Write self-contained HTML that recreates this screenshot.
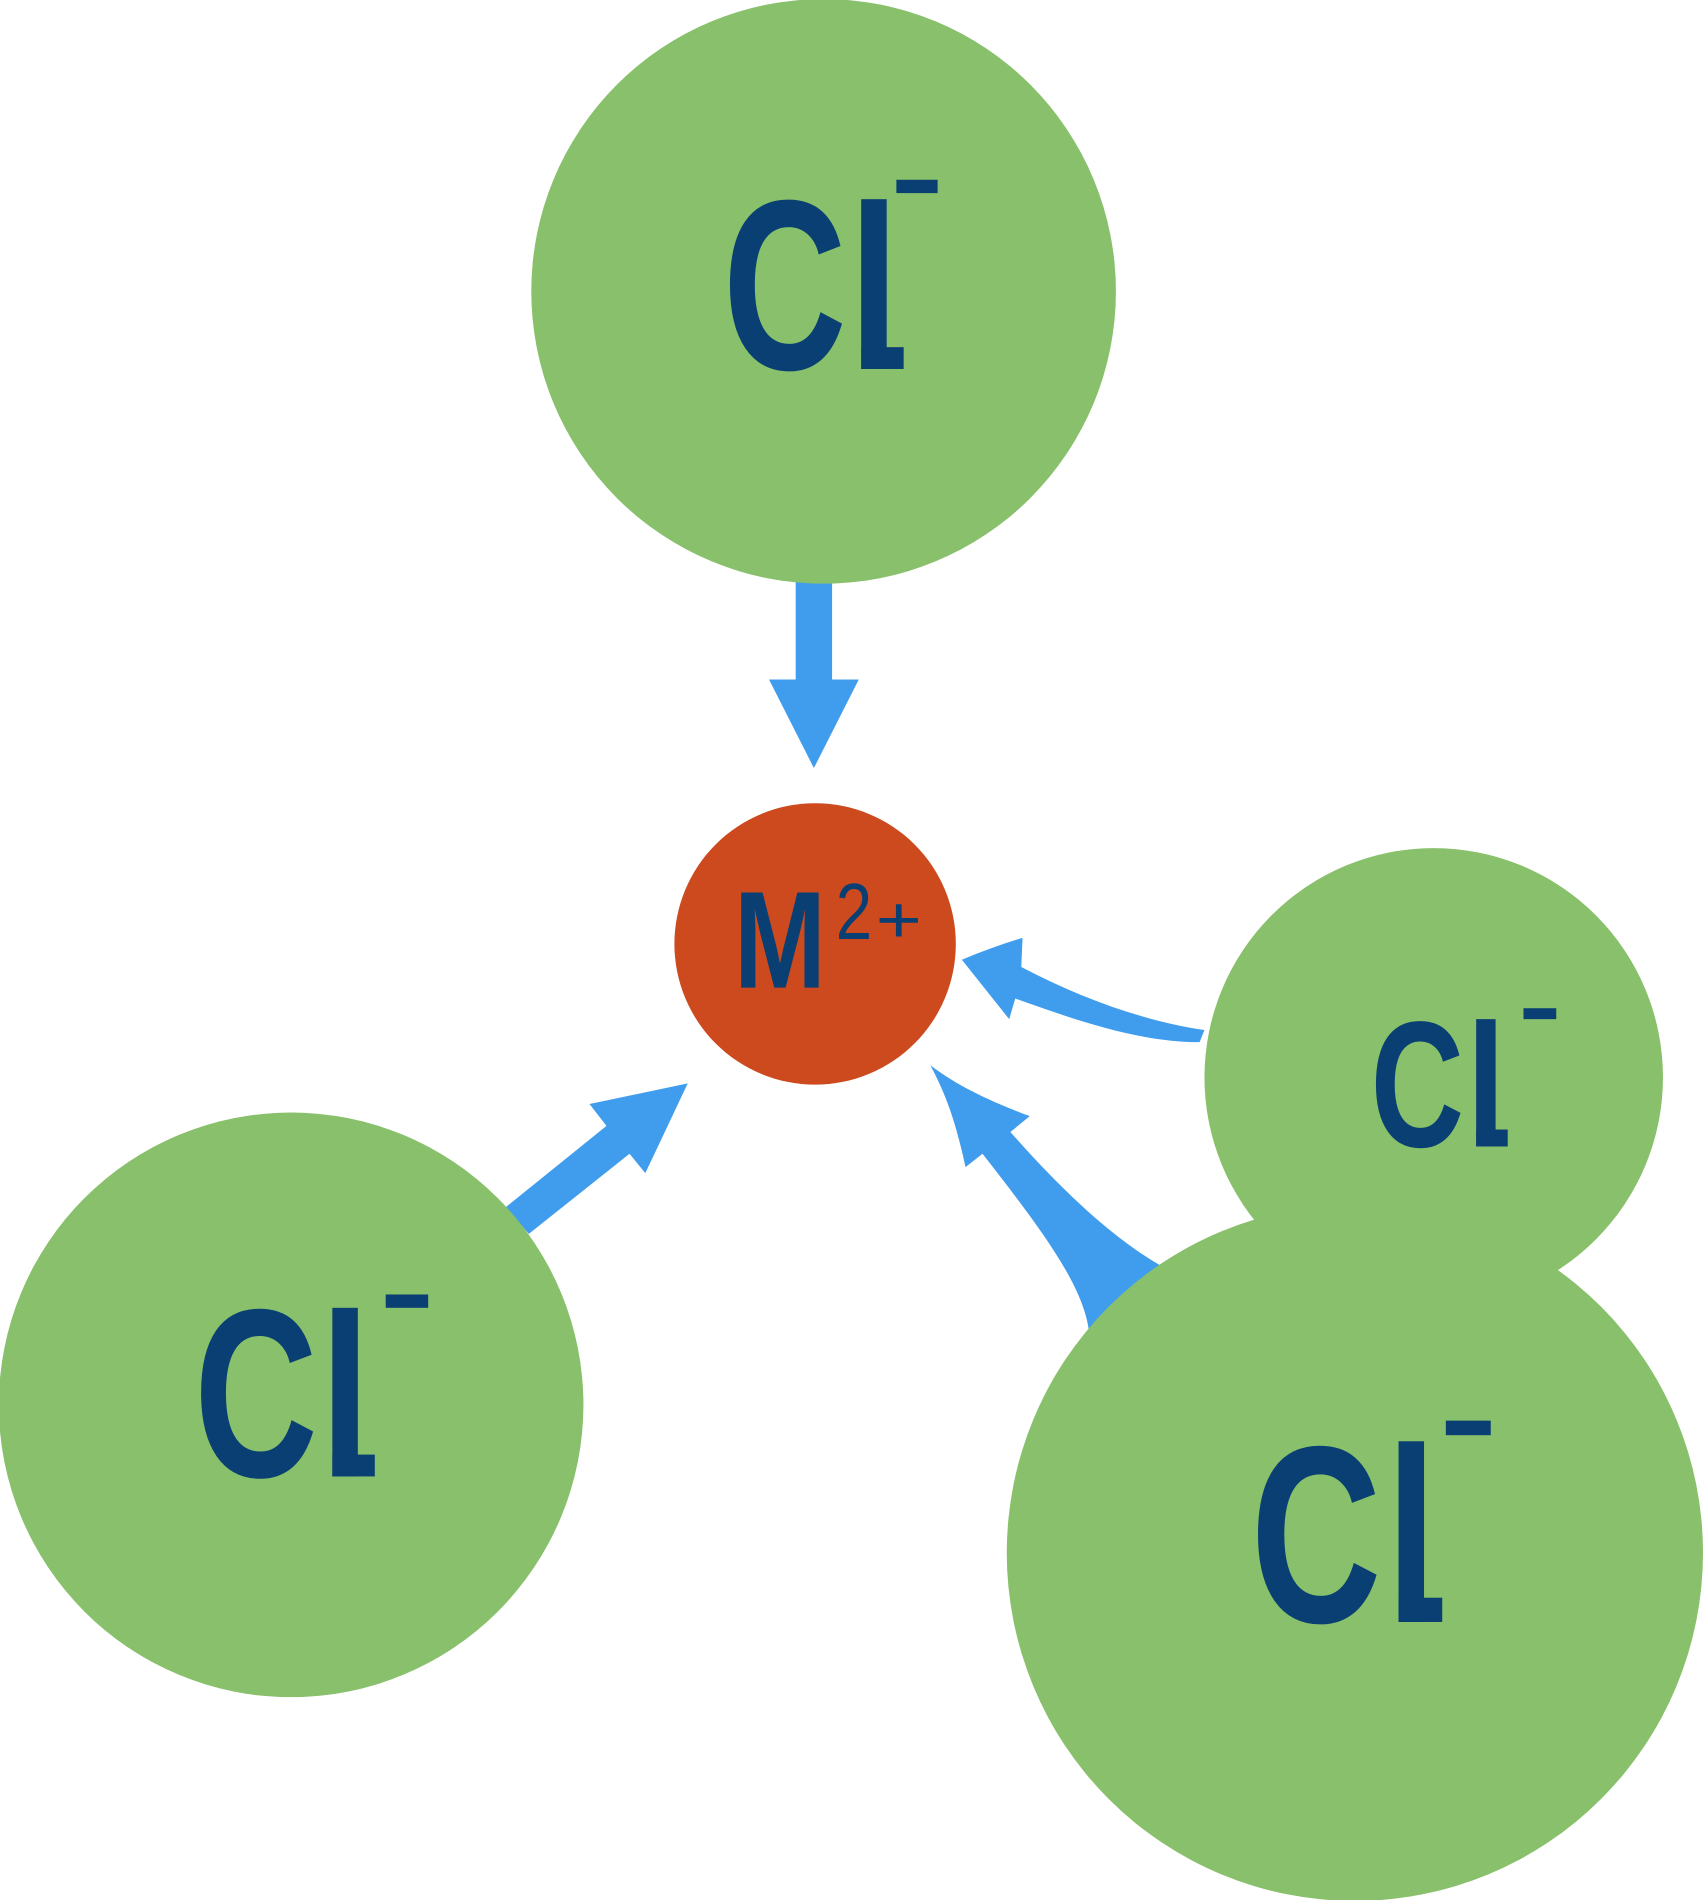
<!DOCTYPE html>
<html><head><meta charset="utf-8"><style>html,body{margin:0;padding:0;background:#fff}svg{display:block}</style></head>
<body>
<svg width="1703" height="1900" viewBox="0 0 1404 1566" xmlns="http://www.w3.org/2000/svg">
<g fill="#409ded">
<rect x="656" y="476" width="30" height="86"/>
<polygon points="634,560 708,560 671,633"/>
<polygon points="417,995 500,928 486,910 567,893 532,967 519,951 436,1017"/>
<path d="M993,849 C940,841 890,822 842,797 L843,773 C826,778 810,784 793,791 L832,840 L837,823 C890,842 940,859 989,859 Z"/>
<path d="M960,1045 C915,1020 870,975 833,933 L849,920 C820,909 792,897 767,878 C782,906 789,930 796,962 L810,951 C860,1015 895,1062 898,1100 Z"/>
</g>
<g fill="#88c06b">
<circle cx="679" cy="240" r="241"/>
<circle cx="1182" cy="888" r="189"/>
<circle cx="240" cy="1158" r="241"/>
<circle cx="1117" cy="1280" r="287"/>
</g>
<circle cx="672" cy="778" r="116" fill="#cc4a1e"/>
<g fill="#0a3f73" font-family="Liberation Sans, sans-serif">
<text x="596" y="304" font-size="200" textLength="102" lengthAdjust="spacingAndGlyphs" font-weight="bold">C</text>
<rect x="710" y="164" width="21" height="140"/><rect x="710" y="286" width="35" height="18"/>
<rect x="739" y="148" width="34" height="11"/>

<text x="160" y="1217" font-size="198" textLength="102" lengthAdjust="spacingAndGlyphs" font-weight="bold">C</text>
<rect x="274" y="1078" width="21" height="139"/><rect x="274" y="1199" width="35" height="18"/>
<rect x="318" y="1067" width="35" height="11"/>

<text x="1130" y="945" font-size="148" textLength="77" lengthAdjust="spacingAndGlyphs" font-weight="bold">C</text>
<rect x="1217" y="840" width="16" height="105"/><rect x="1217" y="931" width="26" height="14"/>
<rect x="1256" y="831" width="27" height="9"/>

<text x="1031" y="1337" font-size="208" textLength="108" lengthAdjust="spacingAndGlyphs" font-weight="bold">C</text>
<rect x="1153" y="1188" width="21" height="149"/><rect x="1153" y="1317" width="36" height="20"/>
<rect x="1192" y="1171" width="37" height="12"/>

<text x="605" y="814" font-size="114" textLength="76" lengthAdjust="spacingAndGlyphs" font-weight="bold">M</text>
<text x="689" y="774" font-size="66" textLength="30" lengthAdjust="spacingAndGlyphs">2</text>
<text x="722" y="777" font-size="54" textLength="38" lengthAdjust="spacingAndGlyphs">+</text>
</g>
</svg>
</body></html>
